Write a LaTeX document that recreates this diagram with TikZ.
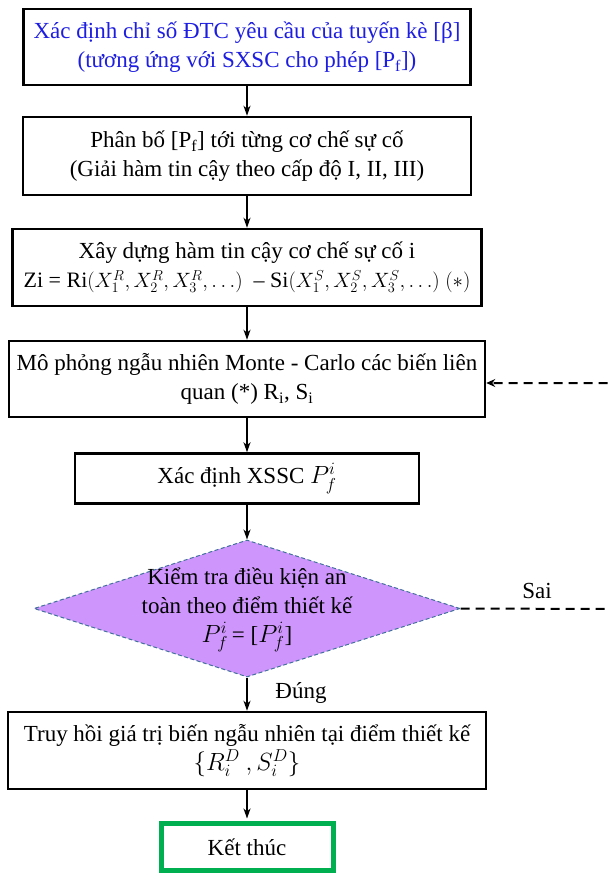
\documentclass[tikz,border=0pt]{standalone}
\usepackage{fontspec}
\setmainfont{Liberation Serif}
\usetikzlibrary{shapes.geometric,arrows.meta}
\definecolor{txtblue}{RGB}{30,30,225}
\definecolor{diafill}{RGB}{206,150,252}
\definecolor{diaedge}{RGB}{65,113,156}
\definecolor{endgreen}{RGB}{0,176,80}
\begin{document}
\begin{tikzpicture}[x=1pt,y=-1pt,
  every node/.style={font=\fontsize{23}{29}\selectfont, align=center, inner sep=0pt},
  stepbox/.style={draw=black, line width=2.5pt, fill=white, minimum width=#1, minimum height=77pt},
  flow/.style={-{Stealth[length=10pt,width=7pt,inset=3pt]}, line width=1.6pt},
  back/.style={dash pattern=on 9pt off 6pt, line width=2pt, -{Stealth[length=9pt,width=8pt,inset=3pt]}}]
\useasboundingbox (0,0) rectangle (610,875);

% process steps
\node[stepbox=447, minimum height=76pt, text=txtblue] (b1) at (247,47)
  {Xác định chỉ số ĐTC yêu cầu của tuyến kè [β]\\(tương ứng với SXSC cho phép [P\textsubscript{f}])};
\node[stepbox=448, minimum height=78pt] (b2) at (247,156)
  {Phân bố [P\textsubscript{f}] tới từng cơ chế sự cố\\(Giải hàm tin cậy theo cấp độ I, II, III)};
\node[stepbox=469] (b3) at (247,267.5)
  {Xây dựng hàm tin cậy cơ chế sự cố i\\{\fontsize{22}{29}\selectfont Zi = Ri$(X_1^R, X_2^R,X_3^R, \dots)$\ \ -- Si$(X_1^S, X_2^S, X_3^S, \dots)$ $(*)$}};
\node[stepbox=476, minimum height=76pt] (b4) at (247,379)
  {Mô phỏng ngẫu nhiên Monte - Carlo các biến liên\\quan (*) R\textsubscript{i}, S\textsubscript{i}};
\node[stepbox=344, minimum height=50pt] (b5) at (247,478.5)
  {Xác định XSSC $P_f^i$};

% decision
\node[diamond, draw=diaedge, dash pattern=on 4pt off 2.5pt, line width=1pt, fill=diafill,
      minimum width=426pt, minimum height=137pt] (dia) at (247,608.5) {};
\node (dtext) at (247,610)
  {Kiểm tra điều kiện an\\toàn theo điểm thiết kế\\$P_f^i$\,= [$P_f^i$]};

\node[stepbox=478] (b6) at (247,750.5)
  {Truy hồi giá trị biến ngẫu nhiên tại điểm thiết kế\\$\{R_i^D\ ,S_i^D\}$};
\node[draw=endgreen, line width=5pt, fill=white, minimum width=172pt, minimum height=47pt] (b7) at (247,847)
  {Kết thúc};

% branch labels
\node (sai) at (537,591) {Sai};
\node (dung) at (301,693) {Đúng};

% main flow
\draw[flow] (b1.south) -- (b2.north);
\draw[flow] (b2.south) -- (b3.north);
\draw[flow] (b3.south) -- (b4.north);
\draw[flow] (b4.south) -- (b5.north);
\draw[flow] (b5.south) -- (dia.north);
\draw[flow] (dia.south) -- (b6.north);
\draw[flow, shorten >=2.5pt] (b6.south) -- (b7.north);

% loop back when the check fails
\coordinate (loopA) at (616,609);
\coordinate (loopB) at (616,383);
\draw[back] (dia.east) -- (loopA) -- (loopB) -- (b4.east |- loopB);
\end{tikzpicture}
\end{document}
